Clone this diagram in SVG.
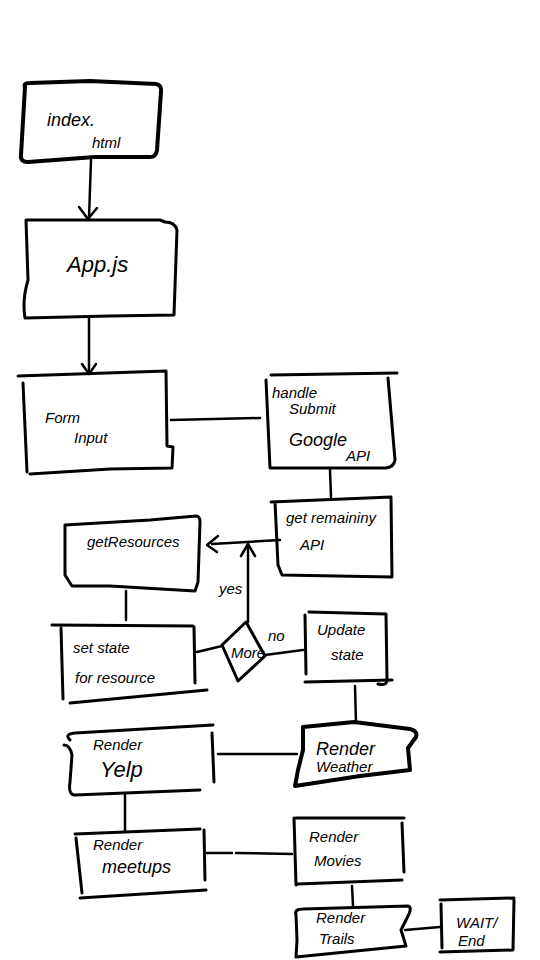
<svg xmlns="http://www.w3.org/2000/svg" width="540" height="960" viewBox="0 0 540 960">
<style>
.s{fill:none;stroke:#000;stroke-width:3;stroke-linecap:round;stroke-linejoin:round}
.b{fill:none;stroke:#000;stroke-width:4;stroke-linecap:round;stroke-linejoin:round}
.c{fill:none;stroke:#000;stroke-width:2.5;stroke-linecap:round;stroke-linejoin:round}
text{font-family:"Liberation Sans","DejaVu Sans",sans-serif;font-style:italic;fill:#000;font-size:15px}
.l{font-size:22px}
.m{font-size:18px}
</style>
<rect width="540" height="960" fill="#fff"/>
<g id="connectors">
<path class="c" d="M91 160 L89 218"/>
<path class="c" d="M79 207 L88 219 L97 208"/>
<path class="c" d="M89 318 L89 373"/>
<path class="c" d="M82 364 L89 374 L96 364"/>
<path class="c" d="M171 420 L260 418"/>
<path class="c" d="M330 470 L331 497"/>
<path class="c" d="M280 540 L212 544"/>
<path class="c" d="M218 536 L207 545 L217 552"/>
<path class="c" d="M248 622 L248 545"/>
<path class="c" d="M241 556 L248 544 L255 556"/>
<path class="c" d="M126 591 L126 620"/>
<path class="c" d="M197 652 L222 646"/>
<path class="c" d="M265 655 L303 650"/>
<path class="c" d="M355 686 L356 723"/>
<path class="c" d="M218 754 L297 754"/>
<path class="c" d="M125 795 L125 831"/>
<path class="c" d="M207 853 L232 853 M236 853 L292 854"/>
<path class="c" d="M352 886 L353 906"/>
<path class="c" d="M405 930 L440 927"/>
<text x="219" y="594" font-size="13">yes</text>
<text x="268" y="641" font-size="14">no</text>
</g>
<g id="index-html">
<path class="b" d="M25 87 Q23 83 30 83 L90 81 L156 84 Q162 85 161 92 L157 150 Q156 158 148 157 L95 157 L28 162 Q20 162 21 155 Z"/>
<text x="47" y="126" class="m">index.</text>
<text x="92" y="148">html</text>
</g>
<g id="app-js">
<path class="s" d="M26 220 L160 220 L165 222 Q175 222 177 230 L174 315 L110 316 L25 318 Q22 300 28 280 L26 220"/>
<text x="67" y="272" class="l">App.js</text>
</g>
<g id="form-input">
<path class="s" d="M18 376 L166 371 L167 446 L173 447 L172 468 L110 469 L30 474 M23 383 L27 472"/>
<text x="45" y="423">Form</text>
<text x="74" y="443">Input</text>
</g>
<g id="handle-submit">
<path class="s" d="M271 375 L397 373 M388 378 L395 460 Q394 467 386 468 L270 468 L266 380"/>
<text x="272" y="398" font-size="14">handle</text>
<text x="289" y="414" font-size="14">Submit</text>
<text x="289" y="446" class="m">Google</text>
<text x="346" y="461" font-size="13">API</text>
</g>
<g id="get-remaining-api">
<path class="s" d="M271 502 L391 497 L392 577 L282 575 L278 565 L275 502"/>
<text x="286" y="523" font-size="14">get remaininy</text>
<text x="300" y="550" font-size="14">API</text>
</g>
<g id="get-resources">
<path class="s" d="M65 525 L150 520 L196 516 Q200 516 200 522 L198 582 L195 591 L110 586 L72 586 L65 575 Z"/>
<text x="87" y="547">getResources</text>
</g>
<g id="set-state">
<path class="s" d="M52 625 L193 626 M194 627 L195 683 M207 690 L70 703 M61 628 L63 699"/>
<text x="73" y="653" font-size="16">set state</text>
<text x="75" y="683" font-size="16">for resource</text>
</g>
<g id="more">
<path class="s" d="M222 645 L246 622 L265 656 L238 681 Z"/>
<text x="231" y="658" font-size="10">More</text>
</g>
<g id="update-state">
<path class="s" d="M309 612 L386 614 L387 680 Q387 686 378 684 M305 615 L306 674 M305 682 L392 680"/>
<text x="317" y="635" font-size="16">Update</text>
<text x="331" y="660" font-size="16">state</text>
</g>
<g id="render-weather">
<path class="b" d="M303 727 L354 722 L410 729 Q418 731 416 737 L408 748 L410 770 L360 776 L295 786 L298 770 L303 750 Z"/>
<text x="316" y="755" class="m">Render</text>
<text x="316" y="772" font-size="13">Weather</text>
</g>
<g id="render-yelp">
<path class="s" d="M70 740 Q64 734 75 733 L213 725 M212 733 L214 782 M200 790 L75 795 Q68 795 70 782 L72 755 Q70 745 64 745"/>
<text x="93" y="750" font-size="13">Render</text>
<text x="100" y="777" class="l">Yelp</text>
</g>
<g id="render-meetups">
<path class="s" d="M75 834 L200 829 M204 830 L205 880 M80 898 L206 890 M76 838 L82 893"/>
<text x="93" y="850" font-size="13">Render</text>
<text x="102" y="873" class="m">meetups</text>
</g>
<g id="render-movies">
<path class="s" d="M296 818 L404 818 M402 823 L404 872 M298 884 L402 880 M294 818 L296 885"/>
<text x="309" y="842" font-size="16">Render</text>
<text x="314" y="866" font-size="16">Movies</text>
</g>
<g id="render-trails">
<path class="s" d="M296 915 Q294 909 303 909 L408 906 Q412 907 409 914 L401 930 L406 946 L296 957 L297 940 Z"/>
<text x="316" y="923" font-size="12">Render</text>
<text x="319" y="944" font-size="14">Trails</text>
</g>
<g id="wait-end">
<path class="s" d="M440 900 L514 898 M514 900 L513 950 M440 952 L513 950 M441 904 L442 948"/>
<text x="456" y="928" font-size="14">WAIT/</text>
<text x="458" y="946" font-size="13">End</text>
</g>
</svg>
